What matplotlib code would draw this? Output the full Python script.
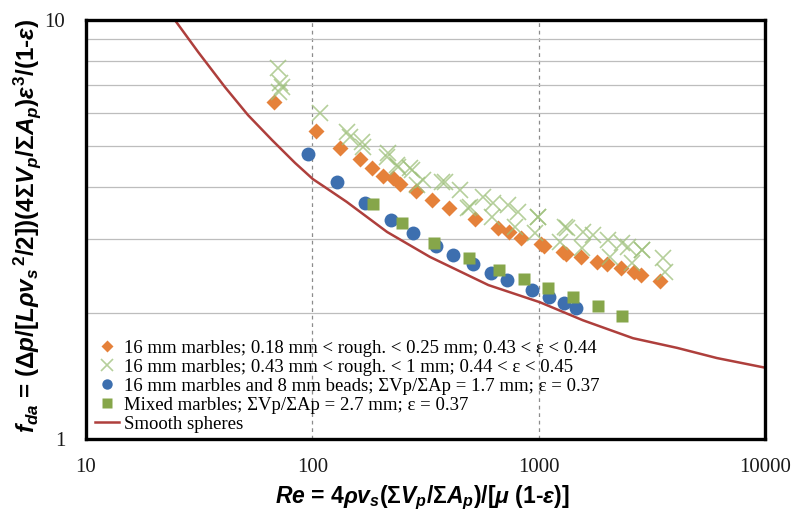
import matplotlib
matplotlib.use('Agg')
import matplotlib.pyplot as plt

# values (log-log)
# 16 mm marbles, 0.18-0.25 mm roughness
re_orange = [68, 104, 132, 163, 184, 205, 227, 244, 287, 338, 402, 524, 662, 740, 836,
             1025, 1060, 1283, 1320, 1539, 1810, 2006, 2312, 2638, 2830, 3435]
f_orange = [6.37, 5.43, 4.95, 4.66, 4.43, 4.24, 4.20, 4.06, 3.91, 3.72, 3.56, 3.35, 3.19, 3.12, 3.02,
            2.92, 2.89, 2.79, 2.76, 2.72, 2.64, 2.61, 2.56, 2.50, 2.46, 2.38]

# 16 mm marbles, 0.43-1 mm roughness
re_cross = [70.5, 72, 73.5, 71, 108, 142, 147, 166, 168, 214, 216, 237, 239, 270, 276, 289, 308,
            374, 386, 449, 488, 498, 568, 622, 628, 732, 787, 811, 963, 994, 994,
            1244, 1310, 1330, 1556, 1571, 1738, 2026, 2066, 2339, 2485, 2588, 2864, 2864, 3548, 3619]
f_cross = [7.68, 7.07, 6.91, 6.74, 6.00, 5.40, 5.25, 5.11, 4.98, 4.71, 4.82, 4.51, 4.45, 4.43, 4.38, 4.04, 4.15,
           4.11, 4.11, 3.93, 3.55, 3.58, 3.78, 3.38, 3.66, 3.62, 3.20, 3.48, 3.10, 3.38, 3.38,
           2.95, 3.20, 3.18, 2.86, 3.12, 3.07, 2.98, 2.72, 2.93, 2.87, 2.63, 2.83, 2.83, 2.70, 2.51]

# 16 mm marbles and 8 mm beads
re_blue = [96, 128, 171, 223, 279, 352, 419, 513, 617, 725, 935, 1112, 1296, 1463]
f_blue = [4.79, 4.11, 3.66, 3.33, 3.10, 2.89, 2.75, 2.62, 2.49, 2.40, 2.27, 2.18, 2.11, 2.05]

# mixed marbles
re_green = [185, 249, 345, 492, 668, 861, 1101, 1419, 1828, 2336]
f_green = [3.64, 3.28, 2.94, 2.70, 2.53, 2.41, 2.29, 2.18, 2.08, 1.97]

# smooth spheres curve
re_smooth = [24.7, 31.3, 41.1, 52.0, 66.4, 83.9, 100.7, 113.8, 142, 214, 331, 600, 1014,
             1570, 2612, 4090, 6140, 10000]
f_smooth = [10.0, 8.39, 6.92, 5.93, 5.17, 4.56, 4.17, 3.99, 3.68, 3.12, 2.72, 2.33, 2.12,
            1.92, 1.74, 1.65, 1.56, 1.48]

labels = ['16 mm marbles; 0.18 mm < rough. < 0.25 mm; 0.43 < ε < 0.44',
          '16 mm marbles; 0.43 mm < rough. < 1 mm; 0.44 < ε < 0.45',
          '16 mm marbles and 8 mm beads; ΣVp/ΣAp = 1.7 mm; ε = 0.37',
          'Mixed marbles; ΣVp/ΣAp = 2.7 mm; ε = 0.37',
          'Smooth spheres']

plt.rcParams['mathtext.fontset'] = 'custom'
plt.rcParams['mathtext.rm'] = 'Liberation Sans:bold'
plt.rcParams['mathtext.it'] = 'Liberation Sans:bold:italic'
plt.rcParams['mathtext.bf'] = 'Liberation Sans:bold'

fig = plt.figure(figsize=(7.96, 5.15), dpi=100)
ax = fig.add_axes([0.108, 0.1476, 0.853, 0.8135])

ax.plot(re_orange, f_orange, 'D', color='#E5813A', ms=8, mec='none', label=labels[0], zorder=3)
ax.plot(re_cross, f_cross, 'x', color='#9DC07A', ms=11.5, mew=1.2, alpha=0.75, label=labels[1], zorder=4)
ax.plot(re_blue, f_blue, 'o', color='#3D6FAF', ms=10, mec='none', label=labels[2], zorder=3)
ax.plot(re_green, f_green, 's', color='#86A64A', ms=9, mec='none', label=labels[3], zorder=3)
ax.plot(re_smooth, f_smooth, '-', color='#AE3F3C', lw=1.8, label=labels[4], zorder=2)

ax.set_xscale('log')
ax.set_yscale('log')
ax.set_xlim(10, 10000)
ax.set_ylim(1, 10)

# gridlines: minor horizontal, dashed vertical at the decades
ax.yaxis.grid(True, which='minor', color='#BDBDBD', lw=0.9)
for xv in [100, 1000]:
    ax.axvline(xv, color='#8C8C8C', lw=0.9, ls=(0, (3, 3)), zorder=1)

ax.set_xticks([10, 100, 1000, 10000])
ax.set_xticklabels(['10', '100', '1000', '10000'])
ax.set_yticks([1, 10])
ax.set_yticklabels(['1', '10'])
ax.set_xticks([], minor=True)
ax.set_yticks([2, 3, 4, 5, 6, 7, 8, 9], minor=True)
ax.yaxis.set_minor_formatter(matplotlib.ticker.NullFormatter())
ax.tick_params(which='both', length=0)
ax.tick_params(axis='x', pad=14)
ax.tick_params(axis='y', pad=15)
for t in ax.get_xticklabels() + ax.get_yticklabels():
    t.set_fontfamily('Liberation Serif')
    t.set_fontsize(15)
    t.set_color('#1a1a1a')

for s in ax.spines.values():
    s.set_linewidth(2.4)
    s.set_color('black')

ax.set_xlabel(r'$Re$ = 4$\rho v_s$(Σ$V_p$/Σ$A_p$)/[$\mu$ (1-$\varepsilon$)]',
              fontsize=16.5, fontweight='bold', fontfamily='Liberation Sans')
ax.xaxis.set_label_coords(0.495, -0.106)
ax.set_ylabel(r'$f_{da}$ = (Δ$p$/[$L\rho v_s$$^{\,2}$/2])(4Σ$V_p$/Σ$A_p$)$\varepsilon^3$/(1-$\varepsilon$)',
              fontsize=17.5, fontweight='bold', fontfamily='Liberation Sans')
ax.yaxis.set_label_coords(-0.064, 0.51)

leg = ax.legend(loc='lower left', bbox_to_anchor=(-0.004, -0.012), frameon=False,
                prop={'family': 'Liberation Serif', 'size': 13.5}, markerscale=0.75,
                handlelength=1.3, handletextpad=0.25, labelspacing=0.1, borderaxespad=0.2)

fig.savefig('out.png', dpi=100)
